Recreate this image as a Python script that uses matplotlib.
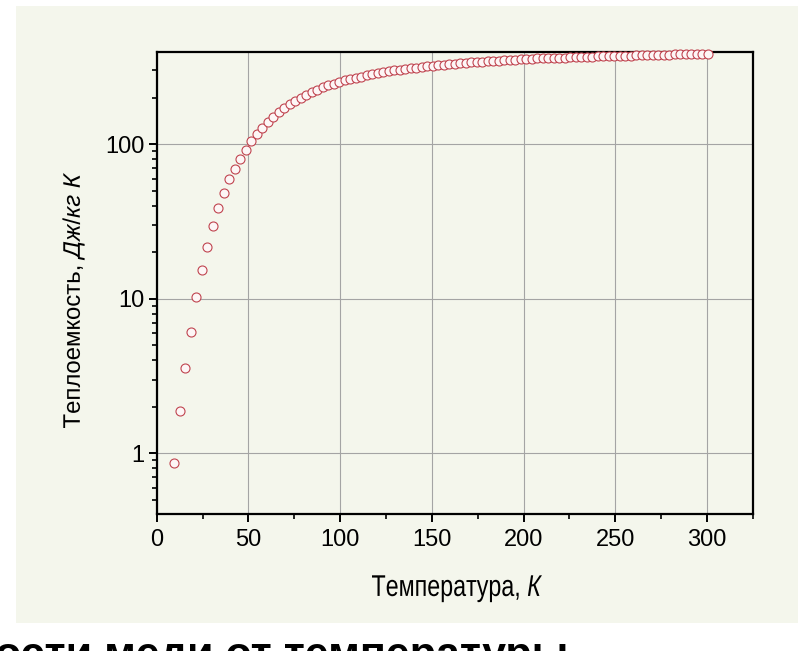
import matplotlib
matplotlib.use("Agg")
import matplotlib.pyplot as plt
import matplotlib.ticker as ticker
from matplotlib.patches import Rectangle, PathPatch
from matplotlib.textpath import TextPath
from matplotlib.font_manager import FontProperties
from matplotlib.transforms import Affine2D, IdentityTransform

# temperature, K
T = [9.5, 12.5, 15.5, 18.5, 21.5, 24.5, 27.5, 30.5, 33.5, 36.5,
     39.5, 42.5, 45.5, 48.5, 51.5, 54.5, 57.5, 60.5, 63.5, 66.5,
     69.5, 72.5, 75.5, 78.5, 81.5, 84.5, 87.5, 90.5, 93.5, 96.5,
     99.5, 102.5, 105.5, 108.5, 111.5, 114.5, 117.5, 120.5, 123.5, 126.5,
     129.5, 132.5, 135.5, 138.5, 141.5, 144.5, 147.5, 150.5, 153.5, 156.5,
     159.5, 162.5, 165.5, 168.5, 171.5, 174.5, 177.5, 180.5, 183.5, 186.5,
     189.5, 192.5, 195.5, 198.5, 201.5, 204.5, 207.5, 210.5, 213.5, 216.5,
     219.5, 222.5, 225.5, 228.5, 231.5, 234.5, 237.5, 240.5, 243.5, 246.5,
     249.5, 252.5, 255.5, 258.5, 261.5, 264.5, 267.5, 270.5, 273.5, 276.5,
     279.5, 282.5, 285.5, 288.5, 291.5, 294.5, 297.5, 300.5]

# heat capacity, J/(kg K)
C = [0.87, 1.88, 3.57, 6.1, 10.2, 15.4, 21.7, 29.6, 38.7, 48.6,
     59.3, 69.2, 80.0, 91.9, 104.5, 116, 127.6, 140, 151, 161,
     171, 182, 191, 200, 209, 217, 225, 233, 240, 246,
     253, 259, 264, 269, 274, 279, 283, 288, 292, 296,
     300, 303, 307, 310, 313, 316, 319, 322, 324, 327,
     329, 332, 334, 336, 338, 340, 342, 344, 346, 348,
     350, 351, 353, 355, 356, 357, 359, 360, 361, 362,
     363, 364, 365, 366, 367, 368, 369, 370, 371, 372,
     373, 373, 374, 375, 376, 376, 377, 378, 379, 379,
     380, 381, 381, 382, 383, 383, 384, 385]

x_ticks = [0, 50, 100, 150, 200, 250, 300]
y_ticks = [1, 10, 100]

bg = "#f4f6ec"

plt.rcParams["mathtext.fontset"] = "custom"
plt.rcParams["mathtext.rm"] = "Liberation Sans"
plt.rcParams["mathtext.it"] = "Liberation Sans:italic"

fig = plt.figure(figsize=(7.98, 6.51), dpi=100)
fig.patch.set_facecolor("white")
fig.patches.append(Rectangle((16 / 798, 28 / 651), 782 / 798, 617 / 651,
                             transform=fig.transFigure, facecolor=bg,
                             edgecolor="none", zorder=-10))

ax = fig.add_axes([0.1964, 0.2104, 0.7469, 0.7097])
ax.set_facecolor(bg)

ax.plot(T, C, linestyle="none", marker="o", markersize=6.5,
        markerfacecolor="#fdf6f6", markeredgecolor="#c04450",
        markeredgewidth=0.8, clip_on=False, zorder=5)

ax.set_yscale("log")
ax.set_xlim(0, 325)
ax.set_ylim(0.405, 395)

ax.set_xticks(x_ticks)
ax.xaxis.set_minor_locator(ticker.MultipleLocator(25))
ax.yaxis.set_major_locator(ticker.FixedLocator(y_ticks))
ax.yaxis.set_major_formatter(ticker.FuncFormatter(lambda v, p: "%g" % v))
ax.yaxis.set_minor_locator(ticker.LogLocator(base=10, subs=range(2, 10)))
ax.yaxis.set_minor_formatter(ticker.NullFormatter())

ax.grid(True, which="major", color="#a4a4a4", linewidth=0.8)
ax.set_axisbelow(True)

for s in ax.spines.values():
    s.set_linewidth(1.6)
    s.set_color("black")

ax.tick_params(which="major", direction="out", length=6, width=1.4,
               labelsize=17, pad=3)
ax.tick_params(which="minor", direction="out", length=3.6, width=1.2)
ax.tick_params(axis="x", which="major", pad=5)
for lbl in ax.get_xticklabels() + ax.get_yticklabels():
    lbl.set_family("Liberation Sans")


# condensed axis labels, drawn as squeezed text paths (pixel coords)
def squeezed(s, size, width, cx, cy, rot=0, base=False):
    tp = TextPath((0, 0), s, size=size, prop=FontProperties(family="Liberation Sans"))
    bb = tp.get_extents()
    sx = width / bb.width
    yc = 0 if base else (bb.y0 + bb.y1) / 2
    tr = (Affine2D().translate(-(bb.x0 + bb.x1) / 2, -yc)
          .scale(sx, 1).rotate_deg(rot).translate(cx, cy))
    p = PathPatch(tr.transform_path(tp), transform=IdentityTransform(),
                  facecolor="black", edgecolor="none")
    fig.add_artist(p)


squeezed("Температура, $\\mathit{К}$", 30, 170, 457, 651 - 596, base=True)
squeezed("Теплоемкость, $\\mathit{Дж/кг\\ К}$", 24, 255, 73.5, 651 - 300.5, rot=90)

fig.text(568 / 798, -0.024, "Зависимость теплоемкости меди от температуры",
         ha="right", va="baseline", fontsize=31, fontweight="bold",
         family="Liberation Sans")

fig.savefig("out.png", dpi=100, facecolor=fig.get_facecolor())
